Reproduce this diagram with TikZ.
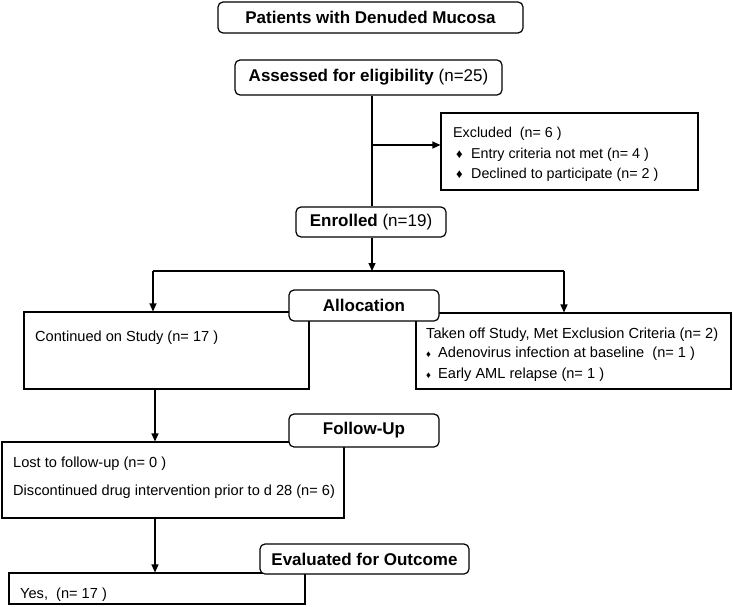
\documentclass[tikz,border=0pt]{standalone}
\usepackage{fontspec}
\setmainfont{Liberation Sans}
\usetikzlibrary{arrows.meta}
\newcommand\bigbul{\makebox[15pt][l]{\fontsize{13}{13}\selectfont ♦}}
\newcommand\smallbul{\makebox[12pt][l]{\fontsize{9.5}{9.5}\selectfont ♦}}
\begin{document}
\begin{tikzpicture}[x=1pt,y=-1pt]
\tikzset{
 title/.style={draw, rounded corners=5pt, fill=white, line width=1.2pt, inner sep=0pt, font=\fontsize{17}{20}\selectfont\bfseries},
 plainbox/.style={draw, fill=white, line width=1.1pt, inner sep=0pt},
 txt/.style={anchor=base west, inner sep=0pt, font=\fontsize{14.6}{17}\selectfont},
 etxt/.style={anchor=base west, inner sep=0pt, font=\fontsize{14.3}{17}\selectfont},
 conn/.style={line width=1.2pt},
 arr/.style={conn, -{Triangle[width=7pt,length=8pt]}},
}
\useasboundingbox (0,0) rectangle (733,607);
% boxes
\node[title, minimum width=305pt, minimum height=31pt] (pat) at (370.5,17.5) {Patients with Denuded Mucosa};
\node[title, minimum width=267pt, minimum height=35pt] (ass) at (368.5,77.5) {Assessed for eligibility \mdseries(n=25)};
\node[plainbox, minimum width=257pt, minimum height=77pt] (exc) at (569.5,151.5) {};
\node[title, minimum width=150pt, minimum height=30pt] (enr) at (371,222) {Enrolled \mdseries(n=19)};
\node[plainbox, minimum width=285pt, minimum height=77pt] (cont) at (166.5,350.5) {};
\node[plainbox, minimum width=315pt, minimum height=76pt] (taken) at (573.5,351) {};
\node[title, minimum width=150pt, minimum height=31pt] (alloc) at (364,305.5) {Allocation};
\node[plainbox, minimum width=342pt, minimum height=76pt] (lost) at (173,480) {};
\node[title, minimum width=150pt, minimum height=33pt] (fu) at (364,430.5) {Follow-Up};
\node[plainbox, minimum width=296pt, minimum height=31pt] (yes) at (157,588.5) {};
\node[title, minimum width=209pt, minimum height=30pt] (eval) at (364.5,559) {Evaluated for Outcome};
% texts
\node[etxt] (t1) at (453,137) {Excluded\ \ (n= 6 )};
\node[etxt] (t2) at (456,158) {\bigbul Entry criteria not met (n= 4 )};
\node[etxt] (t3) at (456,178) {\bigbul Declined to participate (n= 2 )};
\node[txt] (t4) at (35,341) {Continued on Study (n= 17 )};
\node[txt] (t5) at (426,338) {Taken off Study, Met Exclusion Criteria (n= 2)};
\node[txt] (t6) at (426,357) {\smallbul Adenovirus infection at baseline\ \ (n= 1 )};
\node[txt] (t7) at (426,378) {\smallbul Early AML relapse (n= 1 )};
\node[txt] (t8) at (13,467) {Lost to follow-up (n= 0 )};
\node[txt] (t9) at (13,495) {Discontinued drug intervention prior to d 28 (n= 6)};
\node[txt] (t10) at (20,598) {Yes,\ \ (n= 17 )};
% connectors
\coordinate (vx) at (372,0);
\draw[conn] (ass.south -| vx) -- (enr.north -| vx);
\coordinate (exj) at (371,145);
\draw[arr] (exj) -- (exj -| exc.west);
\coordinate (split) at (372,271);
\draw[arr] (enr.south -| vx) -- (split);
\coordinate (lA) at (153,271);
\coordinate (rA) at (564,271);
\draw[conn] (lA) -- (rA);
\draw[arr] (lA) -- (lA |- cont.north);
\draw[arr] (rA) -- (rA |- taken.north);
\coordinate (dx) at (155,0);
\draw[arr] (dx |- cont.south) -- (dx |- lost.north);
\draw[arr] (dx |- lost.south) -- (dx |- yes.north);
\end{tikzpicture}
\end{document}
